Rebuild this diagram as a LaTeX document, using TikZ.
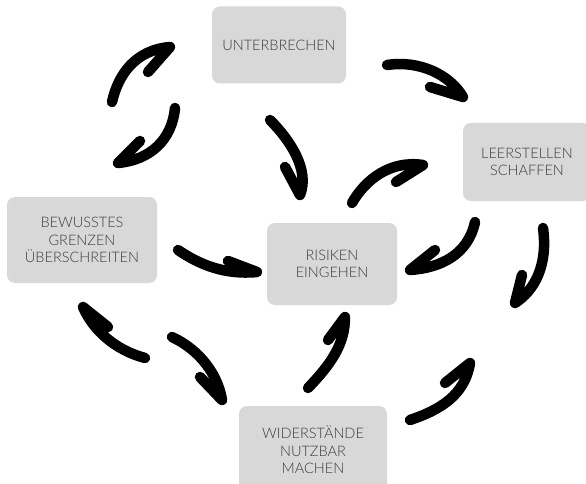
\documentclass[tikz,border=0pt]{standalone}
\usepackage{fontspec}
\setmainfont{Lato}[UprightFont=* Light]
\definecolor{boxgray}{HTML}{D8D8D8}
\definecolor{textgray}{HTML}{3C3C3C}
\begin{document}
\begin{tikzpicture}[x=1pt,y=-1pt,
  box/.style={fill=boxgray, rounded corners=8pt, inner sep=0pt, text=textgray, align=center,
    font=\fontsize{14.5}{17.5}\selectfont},
  brush/.style={line width=10.5pt, line cap=round, line join=round, draw=black}]
\useasboundingbox (0,0) rectangle (586,484);
\begin{scope}
\clip (0,0) rectangle (586,484);
\node[box, minimum width=134pt, minimum height=77pt] (unt) at (279,45) {UNTERBRECHEN};
\node[box, minimum width=128pt, minimum height=78pt] (lee) at (527,162) {LEERSTELLEN\\SCHAFFEN};
\node[box, minimum width=150pt, minimum height=86pt] (bew) at (82,240) {BEWUSSTES\\GRENZEN\\ÜBERSCHREITEN};
\node[box, minimum width=130pt, minimum height=82pt] (ris) at (332,264) {RISIKEN\\EINGEHEN};
\node[box, minimum width=148pt, minimum height=88pt] (wid) at (313,450) {WIDERSTÄNDE\\NUTZBAR\\MACHEN};
\end{scope}
% arrow 1
\coordinate (a1t) at (112,102); \coordinate (a1h) at (170,47); \coordinate (a1b) at (148,72);
\draw[brush] (a1t) .. controls (118,75) and (135,50) .. (a1h) -- (a1b);
% arrow 2
\coordinate (a2t) at (175,108); \coordinate (a2h) at (118,163); \coordinate (a2b) at (140,141);
\draw[brush] (a2t) .. controls (172,140) and (150,160) .. (a2h) -- (a2b);
% arrow 3
\coordinate (a3t) at (270,120); \coordinate (a3h) at (300,195); \coordinate (a3b) at (285,167);
\draw[brush] (a3t) .. controls (290,140) and (310,170) .. (a3h) -- (a3b);
% arrow 4
\coordinate (a4t) at (352,203); \coordinate (a4h) at (423,165); \coordinate (a4b) at (396,182);
\draw[brush] (a4t) .. controls (365,180) and (390,160) .. (a4h) -- (a4b);
% arrow 5
\coordinate (a5t) at (387,65); \coordinate (a5h) at (463,97); \coordinate (a5b) at (430,87);
\draw[brush] (a5t) .. controls (420,60) and (450,75) .. (a5h) -- (a5b);
% arrow 6
\coordinate (a6t) at (475,222); \coordinate (a6h) at (410,270); \coordinate (a6b) at (435,250);
\draw[brush] (a6t) .. controls (468,255) and (440,268) .. (a6h) -- (a6b);
% arrow 7
\coordinate (a7t) at (543,228); \coordinate (a7h) at (515,303); \coordinate (a7b) at (522,275);
\draw[brush] (a7t) .. controls (548,265) and (535,290) .. (a7h) -- (a7b);
% arrow 8
\coordinate (a8t) at (410,420); \coordinate (a8h) at (470,363); \coordinate (a8b) at (445,383);
\draw[brush] (a8t) .. controls (440,410) and (465,395) .. (a8h) -- (a8b);
% arrow 9
\coordinate (a9t) at (308,388); \coordinate (a9h) at (345,317); \coordinate (a9b) at (328,340);
\draw[brush] (a9t) .. controls (330,365) and (345,345) .. (a9h) -- (a9b);
% arrow 10
\coordinate (a10t) at (178,250); \coordinate (a10h) at (257,272); \coordinate (a10b) at (228,261);
\draw[brush] (a10t) .. controls (200,265) and (225,275) .. (a10h) -- (a10b);
% arrow 11
\coordinate (a11t) at (145,358); \coordinate (a11h) at (83,307); \coordinate (a11b) at (108,327);
\draw[brush] (a11t) .. controls (115,350) and (93,330) .. (a11h) -- (a11b);
% arrow 12
\coordinate (a12t) at (172,337); \coordinate (a12h) at (222,400); \coordinate (a12b) at (200,377);
\draw[brush] (a12t) .. controls (200,350) and (218,375) .. (a12h) -- (a12b);
\end{tikzpicture}
\end{document}
